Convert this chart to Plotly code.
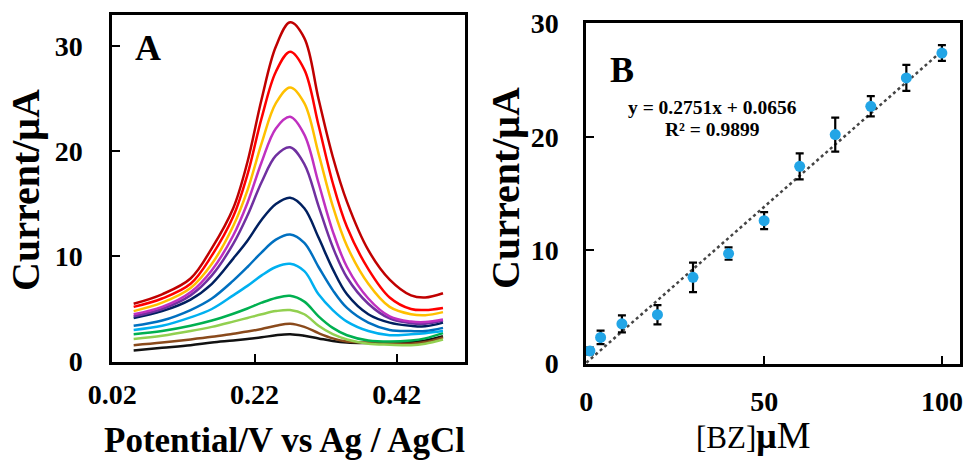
import plotly.graph_objects as go

# ---------------- Panel A data (potential in V, current in µA) ----------------
potential = [0.05, 0.09, 0.13, 0.16, 0.19, 0.21, 0.23, 0.25, 0.27, 0.29, 0.31, 0.33, 0.35, 0.38, 0.41, 0.44, 0.46, 0.485]

curve_black = [1.05, 1.3, 1.55, 1.8, 2.0, 2.15, 2.3, 2.5, 2.6, 2.45, 2.2, 1.95, 1.8, 1.75, 1.75, 1.85, 2.0, 2.4]
curve_brown = [1.55, 1.8, 2.1, 2.35, 2.65, 2.85, 3.1, 3.4, 3.6, 3.3, 2.7, 2.2, 1.9, 1.8, 1.75, 1.7, 1.85, 2.3]
curve_lightgreen = [2.15, 2.45, 2.9, 3.3, 3.8, 4.15, 4.5, 4.8, 4.9, 4.5, 3.4, 2.6, 2.1, 1.7, 1.6, 1.55, 1.7, 2.1]
curve_green = [2.6, 2.9, 3.4, 3.9, 4.55, 5.05, 5.6, 6.05, 6.25, 5.7, 4.3, 3.2, 2.5, 2.0, 1.9, 2.0, 2.2, 2.7]
curve_sky = [3.0, 3.4, 4.2, 5.0, 6.3, 7.2, 8.2, 9.0, 9.3, 8.6, 6.4, 4.9, 3.8, 2.9, 2.5, 2.6, 2.7, 2.9]
curve_blue = [3.4, 3.9, 4.9, 6.0, 7.7, 9.0, 10.4, 11.6, 12.1, 11.3, 9.0, 6.8, 5.1, 3.7, 3.0, 2.9, 2.9, 3.2]
curve_navy = [4.15, 4.8, 5.9, 7.4, 9.8, 11.5, 13.5, 15.0, 15.6, 14.6, 11.8, 8.8, 6.4, 4.5, 3.7, 3.4, 3.35, 3.7]
curve_purple = [4.3, 5.0, 6.3, 8.2, 11.2, 13.9, 17.1, 19.6, 20.4, 18.8, 14.8, 10.9, 8.0, 5.5, 4.1, 3.65, 3.6, 3.9]
curve_magenta = [4.5, 5.2, 6.6, 8.7, 12.0, 15.1, 19.0, 22.2, 23.3, 21.6, 17.0, 12.4, 9.0, 6.0, 4.3, 3.8, 3.75, 4.0]
curve_gold = [4.8, 5.6, 7.0, 9.3, 12.9, 16.3, 20.8, 24.6, 26.1, 24.6, 19.8, 14.8, 11.0, 7.4, 5.2, 4.5, 4.4, 4.7]
curve_red = [5.2, 6.0, 7.4, 10.1, 13.8, 17.8, 23.2, 27.6, 29.5, 27.8, 22.5, 17.0, 12.8, 8.8, 6.1, 5.0, 4.9, 5.1]
curve_darkred = [5.5, 6.4, 7.9, 10.8, 14.6, 19.0, 25.0, 30.0, 32.3, 30.8, 25.0, 19.5, 15.2, 10.6, 7.8, 6.3, 6.1, 6.5]

curves_A = [curve_black, curve_brown, curve_lightgreen, curve_green, curve_sky, curve_blue,
            curve_navy, curve_purple, curve_magenta, curve_gold, curve_red, curve_darkred]
colors_A = ["#111111", "#8a4a1c", "#92d050", "#00b050", "#00b0f0", "#0070c0",
            "#002060", "#7030a0", "#c030c0", "#ffc000", "#ff0000", "#c00000"]

# ---------------- Panel B data ----------------
conc_BZ = [1, 4, 10, 20, 30, 40, 50, 60, 70, 80, 90, 100]
current_B = [1.1, 2.3, 3.5, 4.3, 7.6, 9.7, 12.6, 17.4, 20.2, 22.7, 25.2, 27.4]
error_B = [0.3, 0.6, 0.75, 0.85, 1.3, 0.55, 0.75, 1.15, 1.5, 0.9, 1.15, 0.7]
slope, intercept = 0.2751, 0.0656
fit_x = [0, 100]

FONT = "Liberation Serif, Times New Roman, serif"

fig = go.Figure()
for ys, c in zip(curves_A, colors_A):
    fig.add_trace(go.Scatter(x=potential, y=ys, mode="lines", line=dict(color=c, width=2.5, shape="spline", smoothing=1.0),
                             xaxis="x", yaxis="y", showlegend=False, hoverinfo="skip"))

fig.add_trace(go.Scatter(x=fit_x, y=[slope * v + intercept for v in fit_x], mode="lines",
                         line=dict(color="#444444", width=2.5, dash="dot"),
                         xaxis="x2", yaxis="y2", showlegend=False))
fig.add_trace(go.Scatter(x=conc_BZ, y=current_B, mode="markers",
                         marker=dict(color="#22a5e6", size=11),
                         error_y=dict(type="data", array=error_B, color="black", thickness=2.2, width=4),
                         xaxis="x2", yaxis="y2", showlegend=False))

axis_common = dict(showline=True, linecolor="black", linewidth=2.5, mirror=True, ticks="inside",
                   ticklen=8, tickwidth=2, tickcolor="black", showgrid=False, zeroline=False,
                   automargin=False,
                   tickfont=dict(family=FONT, size=28, color="black", weight="bold"))

fig.update_layout(
    width=967, height=460, margin=dict(l=0, r=0, t=0, b=0, pad=0, autoexpand=False),
    paper_bgcolor="white", plot_bgcolor="white", showlegend=False,
    xaxis=dict(domain=[0.1158, 0.4809], range=[0.0195, 0.516], tickvals=[0.02, 0.22, 0.42],
               ticktext=["0.02", "0.22", "0.42"], anchor="y", ticklabelstandoff=6, **axis_common),
    yaxis=dict(domain=[0.2130, 0.9674], range=[-0.05, 33], tickvals=[0, 10, 20, 30], anchor="x",
               ticklabelstandoff=21, **axis_common),
    xaxis2=dict(domain=[0.6060, 0.9928], range=[-0.1, 105.1], tickvals=[0, 50, 100], anchor="y2",
                ticklabelstandoff=11, **axis_common),
    yaxis2=dict(domain=[0.2087, 0.9500], range=[-0.05, 30.05], tickvals=[0, 10, 20, 30], anchor="x2",
                ticklabelstandoff=19, **axis_common),
)

def ann(text, x, y, size, bold=True, angle=0):
    fig.add_annotation(text=text, x=x / 967, y=1 - y / 460, xref="paper", yref="paper",
                       showarrow=False, textangle=angle, xanchor="center", yanchor="middle",
                       font=dict(family=FONT, size=size, color="black", weight="bold" if bold else "normal"))

ann("Current/μA", 25, 190, 40, angle=-90)
ann("Potential/V vs Ag / AgCl", 284, 440, 35)
ann("A", 148, 48, 36)
ann("Current/μA", 505, 188, 40, angle=-90)
ann("[BZ]<b><span style='font-size:36px'>μ</span></b><span style='font-size:38px'>M</span>", 753, 435, 31, bold=False)
ann("B", 622, 70, 36)
ann("y = 0.2751x + 0.0656", 712, 107, 19.5)
ann("R² = 0.9899", 712, 130, 19.5)

fig.write_html("out.html", config={"displayModeBar": False},
               post_script="document.body.style.margin='0';document.body.style.overflow='hidden';")
